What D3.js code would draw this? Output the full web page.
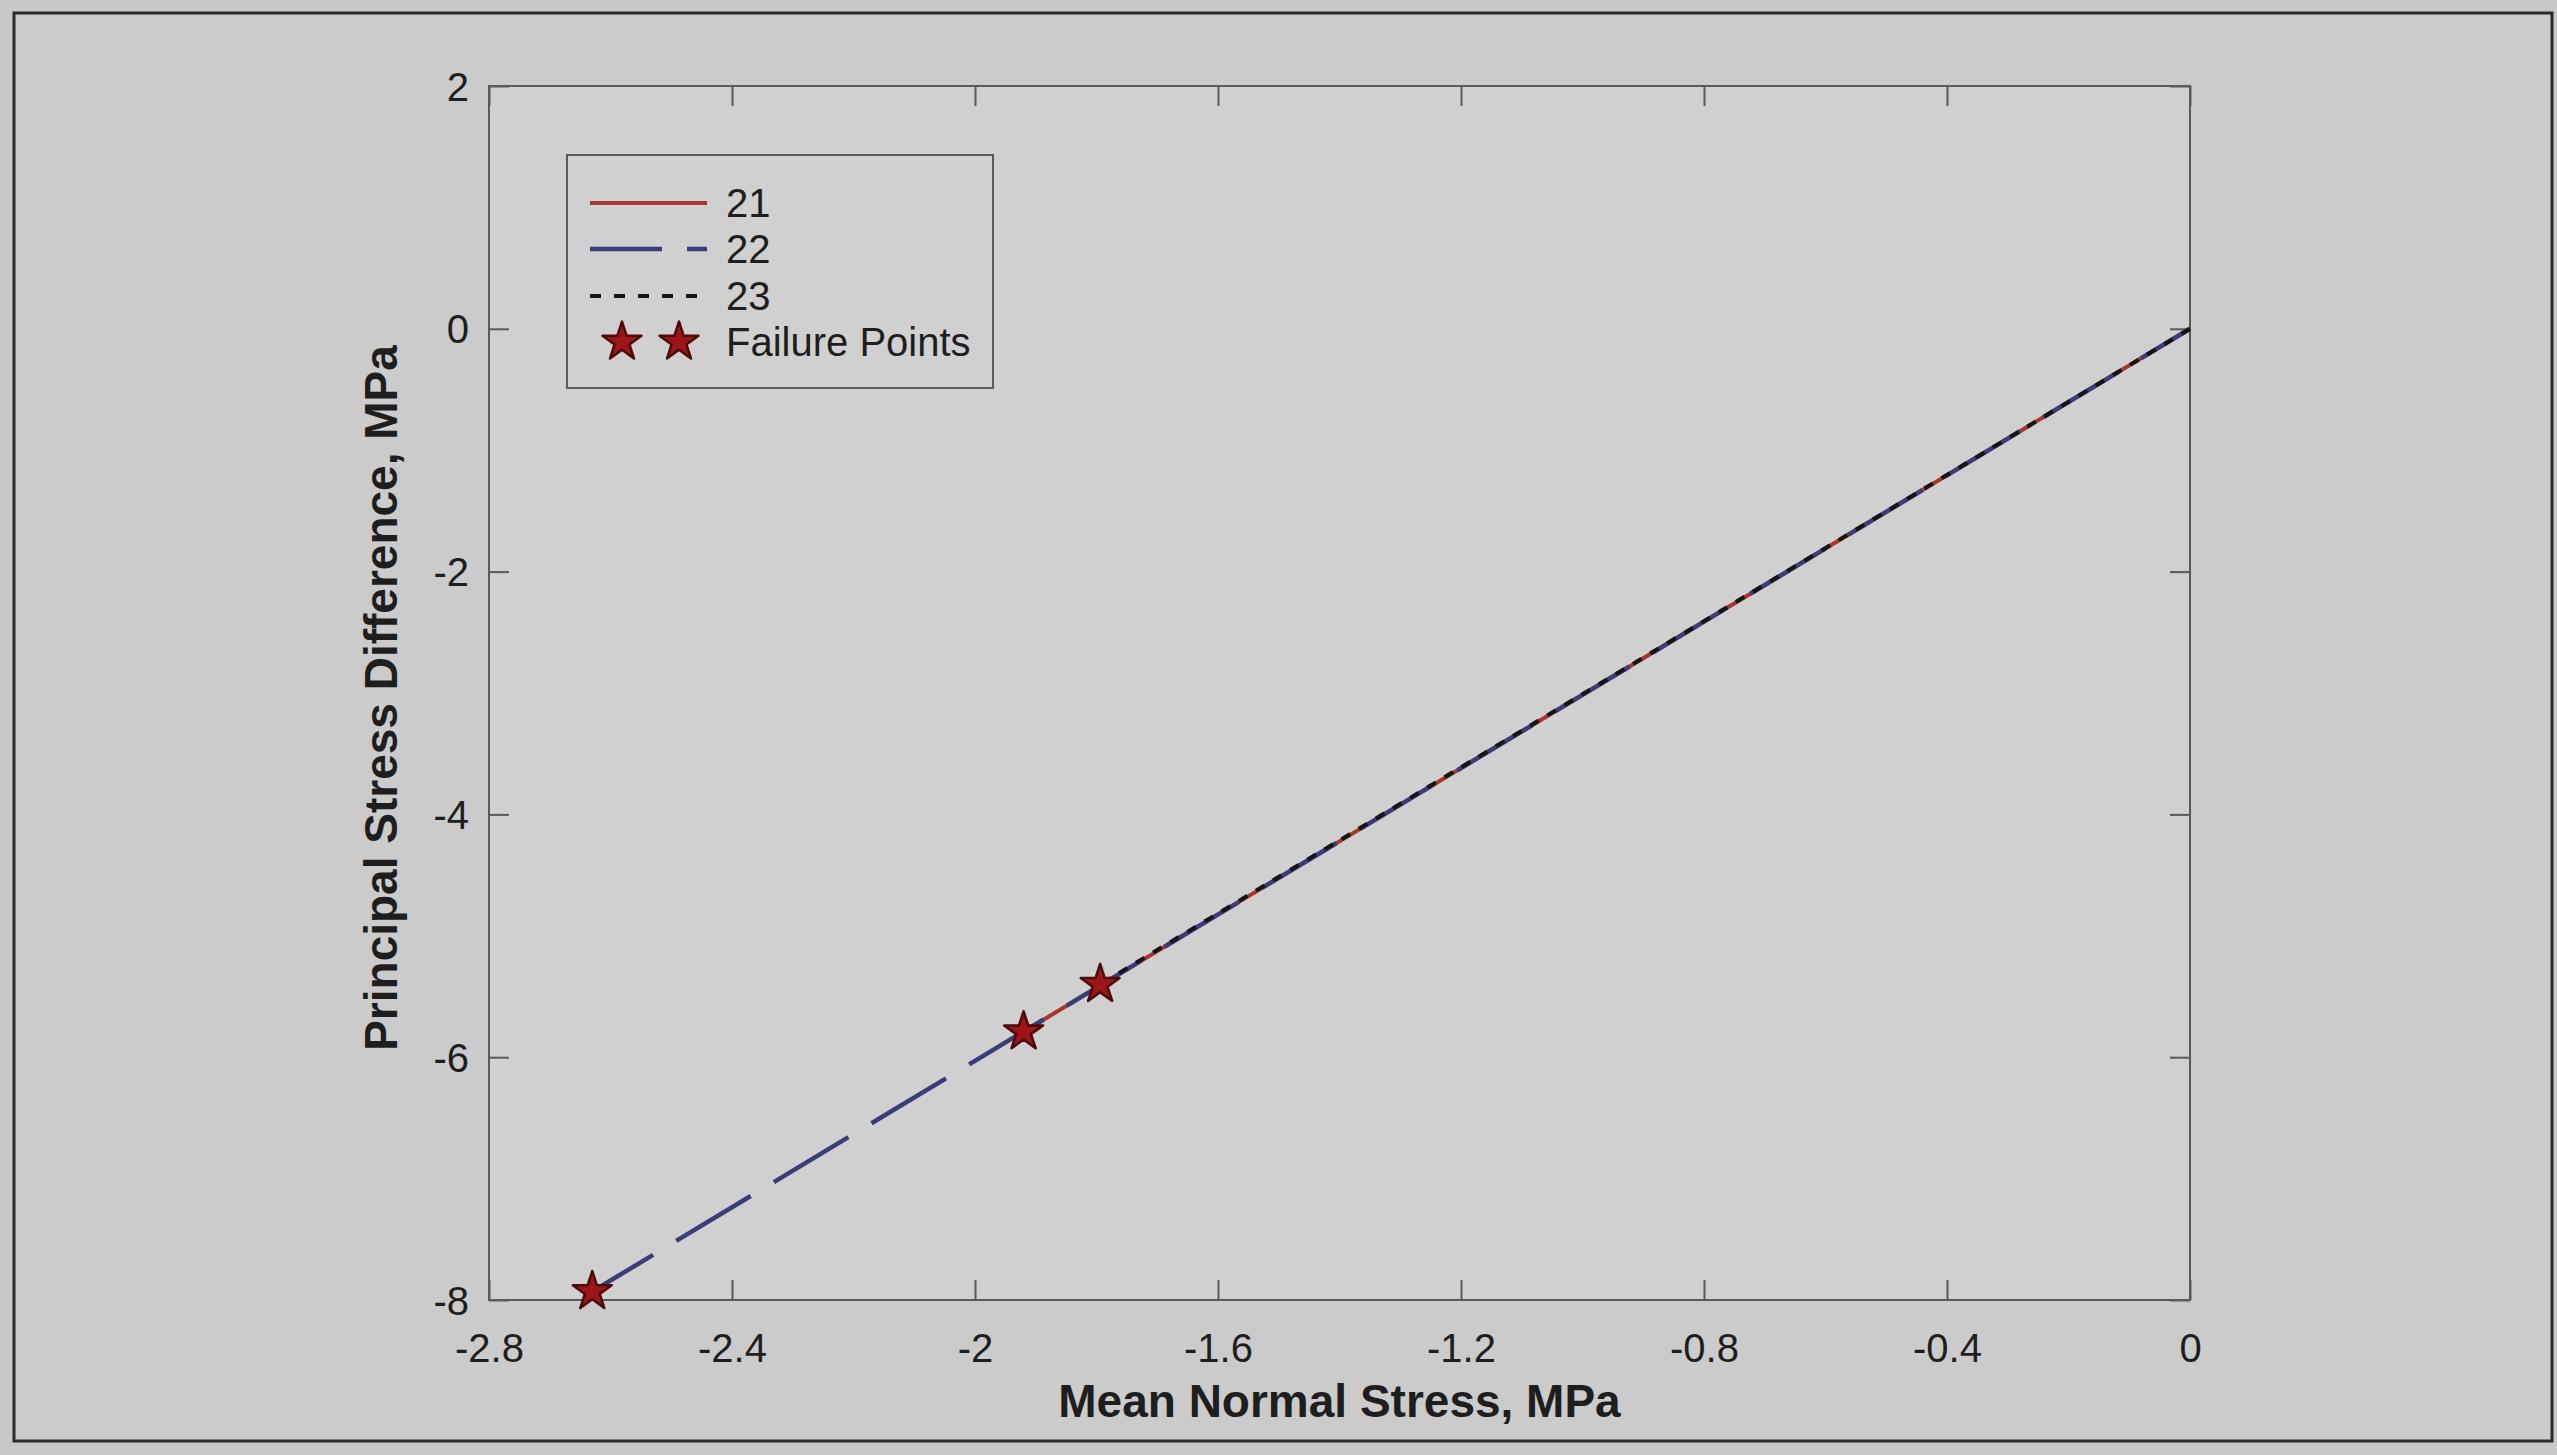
<!DOCTYPE html>
<html>
<head>
<meta charset="utf-8">
<script src="https://cdn.jsdelivr.net/npm/d3@7"></script>
<style>
  html, body { margin: 0; padding: 0; background: #c8c8c8; }
  svg { display: block; }
  text { font-family: "Liberation Sans", Arial, Helvetica, sans-serif; fill: #1e1e1e; }
</style>
</head>
<body>
<script>
// ---- data ----
const xTicks = [-2.8, -2.4, -2, -1.6, -1.2, -0.8, -0.4, 0];
const yTicks = [2, 0, -2, -4, -6, -8];
const seriesNames = ["21", "22", "23"];
const meanStress21 = [0, -1.92];
const stressDiff21 = [0, -5.79];
const meanStress22 = [0, -2.63];
const stressDiff22 = [0, -7.93];
const meanStress23 = [0, -1.794];
const stressDiff23 = [0, -5.40];
const failureX = [-1.794, -1.92, -2.63];
const failureY = [-5.40, -5.79, -7.93];
const xLabel = "Mean Normal Stress, MPa";
const yLabel = "Principal Stress Difference, MPa";
const legendLabels = ["21", "22", "23", "Failure Points"];

// ---- layout ----
const W = 2557, H = 1455;
const L = 489, R = 2190, T = 86, B = 1300;

const svg = d3.select("body").append("svg").attr("width", W).attr("height", H);

// outer frame
svg.append("rect").attr("x", 0).attr("y", 0).attr("width", W).attr("height", H).attr("fill", "#c8c8c8");
svg.append("rect").attr("x", 14).attr("y", 13).attr("width", 2538).attr("height", 1428)
  .attr("fill", "#cbcbcb").attr("stroke", "#2b2b2b").attr("stroke-width", 3);

const x = d3.scaleLinear().domain([-2.8, 0]).range([L, R]);
const y = d3.scaleLinear().domain([-8, 2]).range([B, T]);

// plot area
svg.append("rect").attr("x", L).attr("y", T).attr("width", R - L).attr("height", B - T)
  .attr("fill", "#d0d0d0");

const tickLen = 20;
const axisColor = "#5a5a5a";

// axes via d3 (ticks inward)
const fmt = d => d3.format("")(d).replace("−", "-");
const gx = svg.append("g").attr("transform", `translate(0,${B})`)
  .call(d3.axisBottom(x).tickValues(xTicks).tickSize(-tickLen).tickPadding(34).tickFormat(fmt));
const gxTop = svg.append("g").attr("transform", `translate(0,${T})`)
  .call(d3.axisTop(x).tickValues(xTicks).tickSize(-tickLen).tickFormat(""));
const gy = svg.append("g").attr("transform", `translate(${L},0)`)
  .call(d3.axisLeft(y).tickValues(yTicks).tickSize(-tickLen).tickPadding(20).tickFormat(fmt));
const gyR = svg.append("g").attr("transform", `translate(${R},0)`)
  .call(d3.axisRight(y).tickValues(yTicks).tickSize(-tickLen).tickFormat(""));

[gx, gxTop, gy, gyR].forEach(g => {
  g.select(".domain").remove();
  g.selectAll(".tick line").attr("stroke", axisColor).attr("stroke-width", 2);
  g.selectAll(".tick text").style("font-size", "40px").attr("fill", "#1e1e1e")
   .style("font-family", '"Liberation Sans", Arial, sans-serif');
});
gx.selectAll(".tick text").attr("dy", "0.71em");
gy.selectAll(".tick text").attr("dy", "0.35em");

// box
svg.append("rect").attr("x", L).attr("y", T).attr("width", R - L).attr("height", B - T)
  .attr("fill", "none").attr("stroke", axisColor).attr("stroke-width", 2);

// lines
const line = d3.line().x(d => x(d[0])).y(d => y(d[1]));
const styles = [
  { color: "#a8362e", width: 4, dash: null },
  { color: "#3b3d78", width: 4.5, dash: [87, 27] },
  { color: "#151515", width: 4, dash: [10, 10] }
];
const seriesData = [
  d3.zip(meanStress21, stressDiff21),
  d3.zip(meanStress22, stressDiff22),
  d3.zip(meanStress23, stressDiff23)
];
seriesData.forEach((data, i) => {
  const p = svg.append("path").datum(data).attr("d", line)
    .attr("fill", "none").attr("stroke", styles[i].color)
    .attr("stroke-width", styles[i].width);
  if (styles[i].dash) {
    p.attr("stroke-dasharray", styles[i].dash.join(","));
    if (i === 1) {
      const len = p.node().getTotalLength();
      const per = styles[i].dash[0] + styles[i].dash[1];
      const off = (((71 - len) % per) + per) % per;
      p.attr("stroke-dashoffset", off);
    }
  }
});

// failure stars
const star = d3.symbol().type(d3.symbolStar).size(470);
svg.append("g").selectAll("path").data(d3.zip(failureX, failureY)).join("path")
  .attr("d", star)
  .attr("transform", d => `translate(${x(d[0])},${y(d[1])})`)
  .attr("fill", "#9e1518").attr("stroke", "#4a0a0a").attr("stroke-width", 2.5)
  .attr("stroke-linejoin", "round");

// axis titles
svg.append("text").attr("x", (L + R) / 2).attr("y", 1401).attr("dy", "0.35em")
  .attr("text-anchor", "middle").style("font-size", "46px").style("font-weight", "bold")
  .text(xLabel);
svg.append("text").attr("transform", `translate(381,${(T + B) / 2 + 5}) rotate(-90)`)
  .attr("dy", "0.35em").attr("text-anchor", "middle")
  .style("font-size", "46px").style("font-weight", "bold").text(yLabel);

// legend
const lg = svg.append("g");
lg.append("rect").attr("x", 567).attr("y", 155).attr("width", 426).attr("height", 233)
  .attr("fill", "#d0d0d0").attr("stroke", "#5a5a5a").attr("stroke-width", 2);
const rowY = [203, 249, 296, 342];
const legDash = [null, "72,25", "11,13"];
seriesNames.forEach((n, i) => {
  const l = lg.append("line").attr("x1", 590).attr("x2", 707)
    .attr("y1", rowY[i]).attr("y2", rowY[i])
    .attr("stroke", styles[i].color).attr("stroke-width", styles[i].width);
  if (legDash[i]) l.attr("stroke-dasharray", legDash[i]);
});
[622, 679].forEach(sx => {
  lg.append("path").attr("d", star).attr("transform", `translate(${sx},${rowY[3]})`)
    .attr("fill", "#9e1518").attr("stroke", "#4a0a0a").attr("stroke-width", 2.5)
    .attr("stroke-linejoin", "round");
});
legendLabels.forEach((t, i) => {
  lg.append("text").attr("x", 726).attr("y", rowY[i]).attr("dy", "0.35em")
    .style("font-size", "40px").text(t);
});
</script>
</body>
</html>
